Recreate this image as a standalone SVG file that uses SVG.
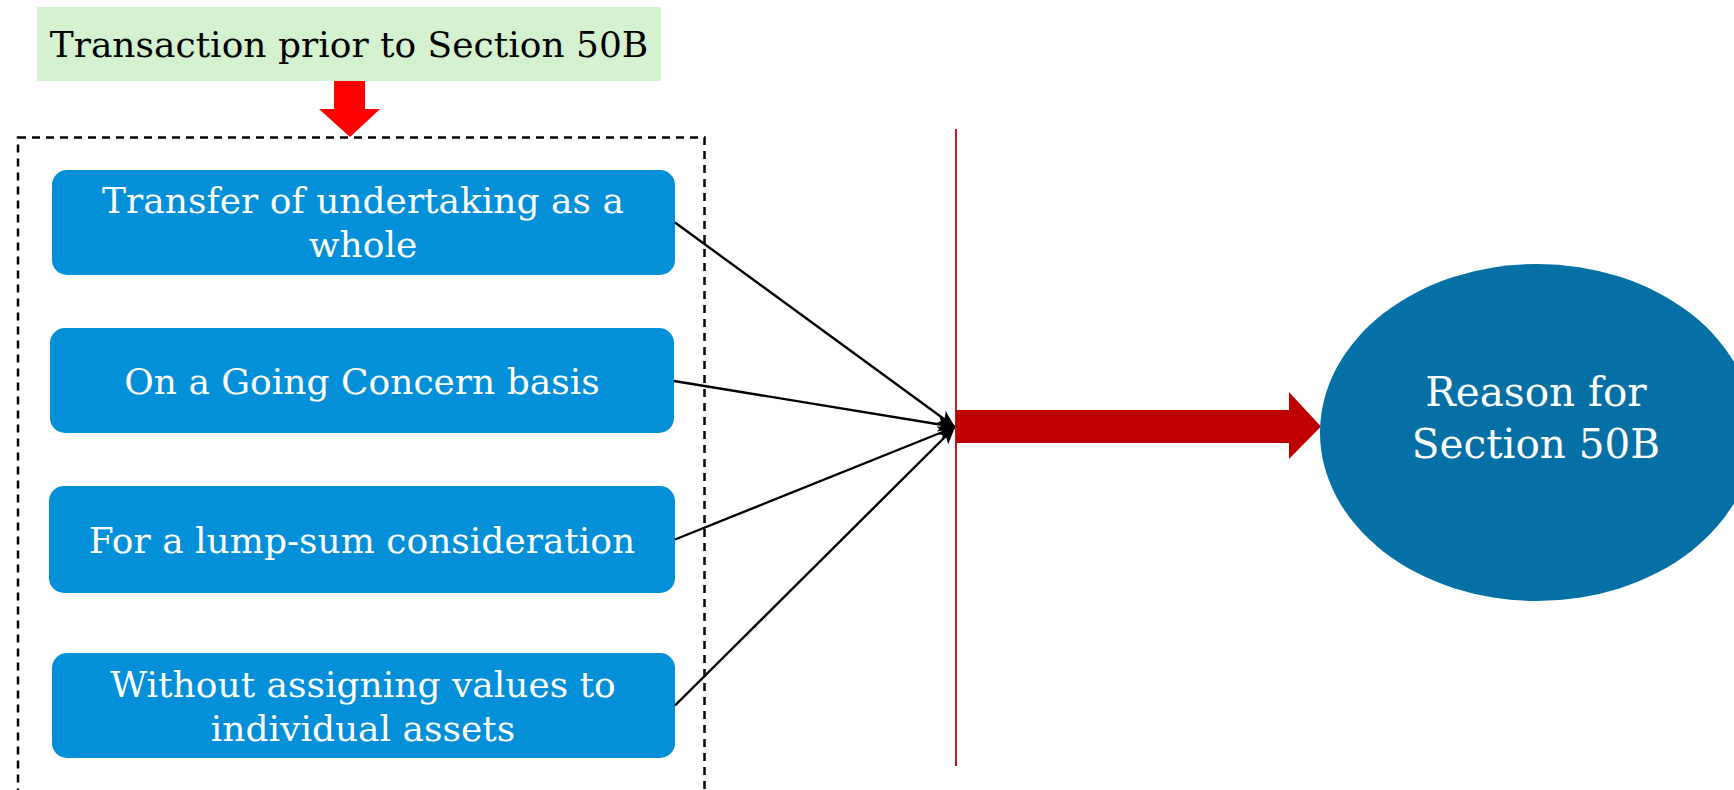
<svg xmlns="http://www.w3.org/2000/svg" width="1734" height="790" viewBox="0 0 1734 790">
<defs>
<style>
.box{fill:#0390D8;}
.bt{fill:#ffffff;font-family:"DejaVu Serif","Liberation Serif",serif;font-size:36px;text-anchor:middle;}
.conn{stroke:#000;stroke-width:2.4;fill:none;}
</style>
<marker id="ah" markerUnits="userSpaceOnUse" markerWidth="20" markerHeight="20" refX="17" refY="10" orient="auto">
<path d="M0,2.5 L17,10 L0,17.5 L4,10 Z" fill="#000"/>
</marker>
</defs>
<rect width="1734" height="790" fill="#fff"/>
<g id="title">
<rect x="37" y="7" width="624" height="74" fill="#D5F2D0"/>
<text x="349" y="57" font-family="DejaVu Serif, Liberation Serif, serif" font-size="36" text-anchor="middle" fill="#000">Transaction prior to Section 50B</text>
</g>
<g id="down-arrow">
<polygon points="334,81 365,81 365,109 380,109 350,137 319,109 334,109" fill="#FF0000"/>
</g>
<g id="group-frame">
<rect x="18" y="137.5" width="686.5" height="700" fill="none" stroke="#000" stroke-width="2.5" stroke-dasharray="8,6"/>
</g>
<g id="node1">
<rect class="box" x="52" y="170" width="623" height="105" rx="15"/>
<text class="bt" x="363" y="213">Transfer of undertaking as a</text>
<text class="bt" x="363" y="257">whole</text>
</g>
<g id="node2">
<rect class="box" x="50" y="328" width="624" height="105" rx="15"/>
<text class="bt" x="362" y="394">On a Going Concern basis</text>
</g>
<g id="node3">
<rect class="box" x="49" y="486" width="626" height="107" rx="15"/>
<text class="bt" x="362" y="553">For a lump-sum consideration</text>
</g>
<g id="node4">
<rect class="box" x="52" y="653" width="623" height="105" rx="15"/>
<text class="bt" x="363" y="697">Without assigning values to</text>
<text class="bt" x="363" y="741">individual assets</text>
</g>
<g id="connectors">
<line class="conn" x1="675" y1="222.5" x2="955" y2="427" marker-end="url(#ah)"/>
<line class="conn" x1="674" y1="381" x2="955" y2="427" marker-end="url(#ah)"/>
<line class="conn" x1="675" y1="539.5" x2="955" y2="427" marker-end="url(#ah)"/>
<line class="conn" x1="675" y1="705.5" x2="955" y2="427" marker-end="url(#ah)"/>
</g>
<g id="divider">
<line x1="956" y1="129" x2="956" y2="766" stroke="#C00000" stroke-width="1.8"/>
</g>
<g id="big-arrow">
<polygon points="956,410 1289,410 1289,392 1321,426.5 1289,459 1289,443 956,443" fill="#C00000"/>
</g>
<g id="reason">
<ellipse cx="1537" cy="432.5" rx="217" ry="168.5" fill="#0570A5"/>
<text x="1536" y="406" font-family="DejaVu Serif, Liberation Serif, serif" font-size="40.5" text-anchor="middle" fill="#fff">Reason for</text>
<text x="1536" y="458" font-family="DejaVu Serif, Liberation Serif, serif" font-size="40.5" text-anchor="middle" fill="#fff">Section 50B</text>
</g>
</svg>
